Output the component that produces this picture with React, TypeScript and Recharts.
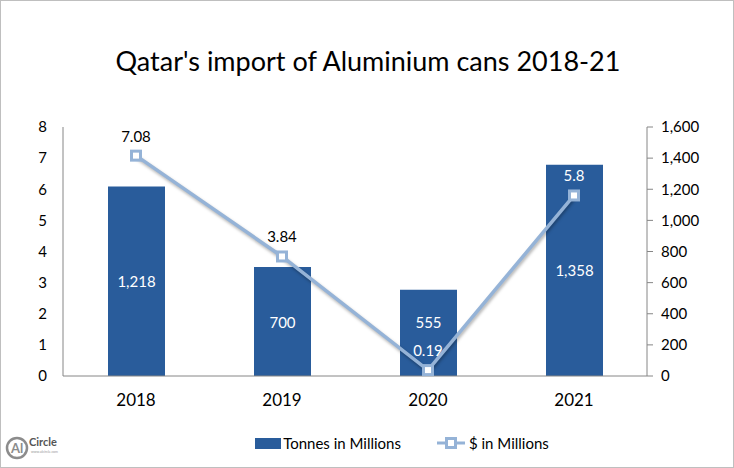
import { ComposedChart, Bar, Line, XAxis, YAxis, LabelList } from 'recharts'

const years = ['2018', '2019', '2020', '2021']
const tonnes = [1218, 700, 555, 1358]
const dollars = [7.08, 3.84, 0.19, 5.8]
const leftTicks = [0, 1, 2, 3, 4, 5, 6, 7, 8]
const rightTicks = [0, 200, 400, 600, 800, 1000, 1200, 1400, 1600]

const data = years.map((year, i) => ({ year, tonnes: tonnes[i], dollars: dollars[i] }))

const FONT = 'Lato, "Open Sans", sans-serif'
const BAR_COLOR = '#295C9B'
const LINE_COLOR = '#95B3D7'
const LINE_LABEL_GAP = 20

// eslint-disable-next-line @typescript-eslint/no-explicit-any
function SquareDot({ cx, cy }: any) {
  if (cx == null || cy == null) return null
  return <rect x={cx - 4.5} y={cy - 4.5} width={9} height={9} fill="#fff" stroke={LINE_COLOR} strokeWidth={3} />
}

// label sits on the bar when the bar reaches above it -> white text
// eslint-disable-next-line @typescript-eslint/no-explicit-any
function DollarLabel({ x, y, width, value, index }: any) {
  const onBar = (dollars[index] + 0.6) * 200 < tonnes[index]
  return (
    <text x={x + (width || 0) / 2} y={y - LINE_LABEL_GAP} textAnchor="middle" dominantBaseline="central" fill={onBar ? '#fff' : '#000'} fontSize={15} fontFamily={FONT}>
      {value}
    </text>
  )
}

// bar value in the middle of the bar, nudged up if it would hit the line label
// eslint-disable-next-line @typescript-eslint/no-explicit-any
function TonneLabel({ x, y, width, height, value, index }: any) {
  const bottom = y + height
  const pointY = bottom - (dollars[index] * 200 * height) / tonnes[index]
  const lineLabelY = pointY - LINE_LABEL_GAP
  let cy = y + height / 2
  if (Math.abs(cy - lineLabelY) < 22) cy = lineLabelY - 28
  return (
    <text x={x + width / 2} y={cy} textAnchor="middle" dominantBaseline="central" fill="#fff" fontSize={15} fontFamily={FONT}>
      {Number(value).toLocaleString('en-US')}
    </text>
  )
}

function LegendRow() {
  return (
    <div style={{ position: 'absolute', top: 433, left: 0, width: 734, display: 'flex', justifyContent: 'center', alignItems: 'center', fontFamily: FONT, fontSize: 15, color: '#000', paddingLeft: 68, boxSizing: 'border-box' }}>
      <span style={{ display: 'inline-block', width: 26, height: 11, background: BAR_COLOR, marginRight: 2 }} />
      <span>Tonnes in Millions</span>
      <svg width={28} height={14} style={{ marginLeft: 36, marginRight: 4 }}>
        <line x1={0} y1={7} x2={28} y2={7} stroke={LINE_COLOR} strokeWidth={3} />
        <rect x={9.5} y={2.5} width={9} height={9} fill="#fff" stroke={LINE_COLOR} strokeWidth={3} />
      </svg>
      <span>$ in Millions</span>
    </div>
  )
}

export default function App() {
  return (
    <div style={{ position: 'absolute', left: 0, top: 0, width: 734, height: 468, boxSizing: 'border-box', border: '1px solid #BFBFBF', background: '#fff' }}>
      <div style={{ position: 'absolute', top: 43, left: 0, width: 734, textAlign: 'center', fontFamily: FONT, fontSize: 27, color: '#000' }}>
        Qatar's import of Aluminium cans 2018-21
      </div>
      <div style={{ position: 'absolute', left: 4, top: 434, width: 56, height: 28, fontFamily: FONT }}>
        <svg width={56} height={28}>
          <circle cx={12} cy={13} r={10} fill="none" stroke="#8C8C8C" strokeWidth={2.5} />
          <text x={12} y={18} textAnchor="middle" fontSize={13} fill="#8C8C8C" fontWeight="bold">Al</text>
          <text x={24} y={11} fontSize={11} fill="#555" fontWeight="bold">Circle</text>
          <text x={26} y={18} fontSize={3.5} fill="#999">www.alcircle.com</text>
        </svg>
      </div>
      <LegendRow />
      <div style={{ position: 'absolute', left: -1, top: -1 }}>
        <ComposedChart width={734} height={468} data={data} margin={{ top: 127, right: 0, bottom: 0, left: 0 }}>
          <XAxis
            dataKey="year"
            height={92}
            axisLine={{ stroke: '#868686' }}
            tickLine={false}
            tick={{ fill: '#000', fontSize: 17, fontFamily: FONT }}
            tickMargin={12}
          />
          <YAxis
            yAxisId="left"
            orientation="left"
            width={63}
            domain={[0, 8]}
            ticks={leftTicks}
            axisLine={{ stroke: '#868686' }}
            tickLine={false}
            tick={{ fill: '#000', fontSize: 15, fontFamily: FONT }}
            tickMargin={10}
          />
          <YAxis
            yAxisId="right"
            orientation="right"
            width={87}
            domain={[0, 1600]}
            ticks={rightTicks}
            tickFormatter={(v: number) => v.toLocaleString('en-US')}
            axisLine={{ stroke: '#868686' }}
            tickLine={{ stroke: '#868686' }}
            tick={{ fill: '#000', fontSize: 15, fontFamily: FONT }}
            tickMargin={8}
          />
          <Bar yAxisId="right" dataKey="tonnes" name="Tonnes in Millions" fill={BAR_COLOR} barSize={57} isAnimationActive={false}>
            <LabelList dataKey="tonnes" content={<TonneLabel />} />
          </Bar>
          <Line
            yAxisId="left"
            dataKey="dollars"
            name="$ in Millions"
            stroke={LINE_COLOR}
            strokeWidth={3.5}
            dot={<SquareDot />}
            activeDot={false}
            isAnimationActive={false}
            style={{ filter: 'drop-shadow(1px 2px 1.5px rgba(0,0,0,0.3))' }}
          >
            <LabelList dataKey="dollars" content={<DollarLabel />} />
          </Line>
        </ComposedChart>
      </div>
    </div>
  )
}
